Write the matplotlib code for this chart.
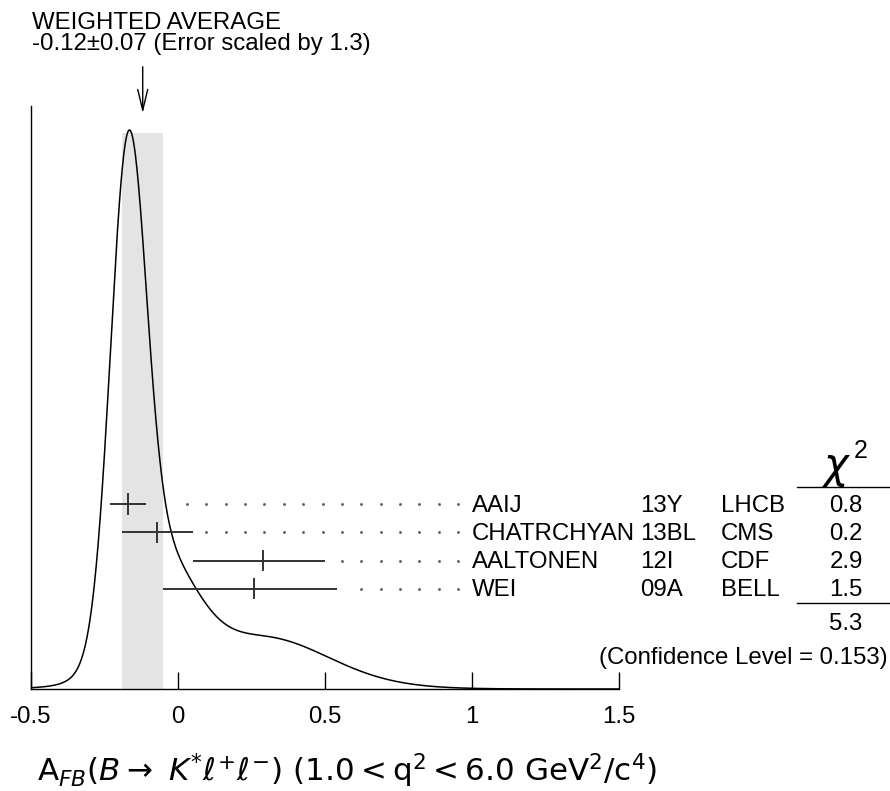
import numpy as np
import matplotlib
matplotlib.use('Agg')
import matplotlib.pyplot as plt

plt.rcParams['font.family'] = ['Liberation Sans', 'DejaVu Sans']
plt.rcParams['mathtext.fontset'] = 'dejavusans'

# measurements of A_FB(B -> K* l+ l-), 1.0 < q^2 < 6.0 GeV^2/c^4
authors = ['AAIJ', 'CHATRCHYAN', 'AALTONEN', 'WEI']
years = ['13Y', '13BL', '12I', '09A']
experiments = ['LHCB', 'CMS', 'CDF', 'BELL']
values = [-0.17, -0.07, 0.29, 0.26]
err_minus = [0.06, 0.12, 0.24, 0.31]
err_plus = [0.06, 0.12, 0.21, 0.28]
chi2 = ['0.8', '0.2', '2.9', '1.5']
chi2_total = '5.3'
conf_level = '0.153'
avg_value = -0.12
avg_error = 0.07
scale_factor = 1.3

FS = 17.3
W, H = 890, 791
fig = plt.figure(figsize=(W / 100, H / 100), dpi=100)
# axes box in pixels: x from 31 to 619, y (from top) from 106 to 689
ax = fig.add_axes([31 / W, (H - 689) / H, 588 / W, 583 / H])
ax.set_xlim(-0.5, 1.5)
ax.set_ylim(0, 583)
for s in ['top', 'right']:
    ax.spines[s].set_visible(False)
for s in ['left', 'bottom']:
    ax.spines[s].set_linewidth(1.0)
ax.set_yticks([])
ax.set_xticks([-0.5, 0, 0.5, 1, 1.5])
ax.set_xticklabels(['-0.5', '0', '0.5', '1', '1.5'])
ax.tick_params(axis='x', direction='in', length=12.5, width=1.0, pad=12, labelsize=FS)

def ypx(y):
    # pixel row (from top of figure) -> axes data units
    return 689 - y

# ideogram: each measurement is a gaussian of area ~ 1/sigma
x = np.linspace(-0.5, 1.5, 1200)
curve = np.zeros_like(x)
for v, em, ep in zip(values, err_minus, err_plus):
    sig = np.where(x < v, em, ep)
    s_avg = 0.5 * (em + ep)
    curve += np.exp(-0.5 * ((x - v) / sig) ** 2) / s_avg ** 2
curve = curve / curve.max() * ypx(130)

# weighted average band
ax.fill_between([avg_value - avg_error, avg_value + avg_error], 0, ypx(133),
                color='#e4e4e4', lw=0, zorder=1)
ax.plot(x, curve, color='black', lw=1.1, zorder=3)

# arrow pointing at the average
ax.annotate('', xy=(avg_value, ypx(116)), xytext=(avg_value, ypx(64)),
            arrowprops=dict(arrowstyle='->,head_length=1.5,head_width=0.36', lw=1.0, color='black'),
            annotation_clip=False)
ax.text(-0.497, ypx(29), 'WEIGHTED AVERAGE', fontsize=FS, va='baseline', ha='left')
ax.text(-0.497, ypx(50), '%.2f\u00b1%.2f (Error scaled by %.1f)' % (avg_value, avg_error, scale_factor),
        fontsize=FS, va='baseline', ha='left')

# measurement rows
dot_x = 0.0306 + 0.0659 * np.arange(15)
for i in range(len(values)):
    yr = ypx(504) - 28.3 * i
    lo = values[i] - err_minus[i]
    hi = values[i] + err_plus[i]
    ax.plot([lo, hi], [yr, yr], color='#333333', lw=1.4, zorder=4, solid_capstyle='butt')
    ax.plot([values[i], values[i]], [yr - 9.5, yr + 9.5], color='#333333', lw=1.4, zorder=4)
    dx = dot_x[(dot_x > hi + 0.04) & (dot_x > 0)]
    ax.plot(dx, np.full(len(dx), yr), ls='none', marker='o', ms=1.1, color='#666666', zorder=4)
    yb = yr - 7.5
    ax.text(1.0, yb, authors[i], fontsize=FS, va='baseline', ha='left')
    ax.text(1.5730, yb, years[i], fontsize=FS, va='baseline', ha='left')
    ax.text(1.847, yb, experiments[i], fontsize=FS, va='baseline', ha='left')
    ax.text(2.272, yb, chi2[i], fontsize=FS, va='baseline', ha='center')

# chi^2 column
ax.text(2.242, ypx(478), r'$\chi$', fontsize=30, va='baseline', ha='center')
ax.text(2.298, ypx(458), '2', fontsize=18, va='baseline', ha='left')
ax.plot([2.105, 2.418], [ypx(487), ypx(487)], color='black', lw=1.0, clip_on=False)
ax.plot([2.105, 2.418], [ypx(603), ypx(603)], color='black', lw=1.0, clip_on=False)
ax.text(2.272, ypx(630), chi2_total, fontsize=FS, va='baseline', ha='center')
ax.text(2.412, ypx(664), '(Confidence Level = %s)' % conf_level, fontsize=FS, va='baseline', ha='right')

# x-axis title
fig.text(37 / W, 1 - 781 / H,
         r'$\mathrm{A}_{FB}(B\rightarrow\ K^{*}\ell^{+}\ell^{-})\ (\mathrm{1.0} < \mathrm{q}^{2} < \mathrm{6.0\ GeV}^{2}/\mathrm{c}^{4})$',
         fontsize=22.3, va='baseline', ha='left')

fig.savefig('out.png', dpi=100)
